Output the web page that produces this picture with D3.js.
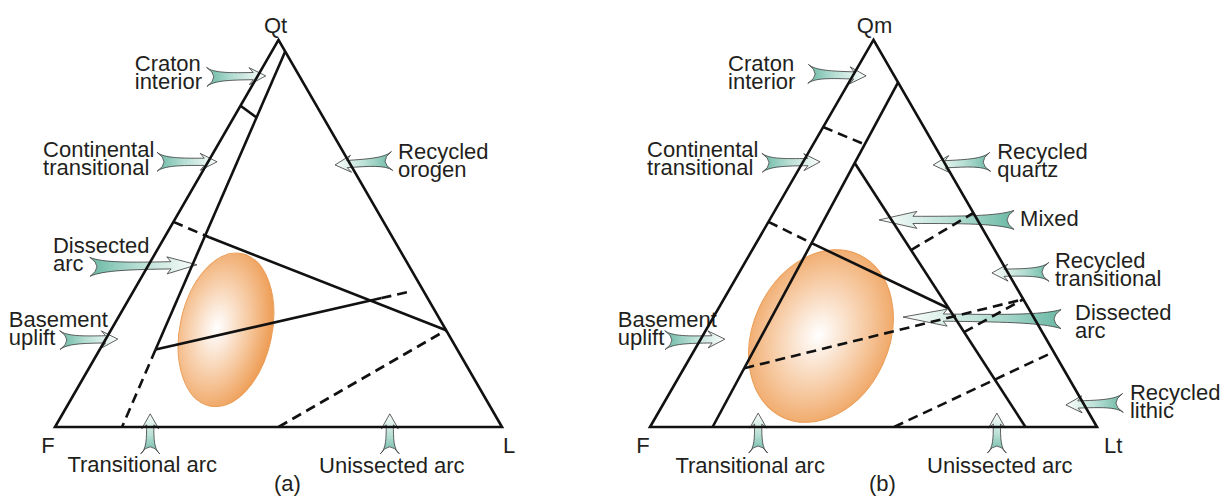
<!DOCTYPE html>
<html>
<head>
<meta charset="utf-8">
<script src="https://cdn.jsdelivr.net/npm/d3@7"></script>
<style>
    body { margin: 0; background: #fff; }
    text { font-family: 'Liberation Sans', Arial, sans-serif; font-size: 22px; fill: #231f20; }
</style>
</head>
<body>
<svg id="chart" width="1225" height="496"></svg>
<script>
// every ternary point is [Q, F, L] in percent
const verticesA = ['Qt', 'F', 'L']
const verticesB = ['Qm', 'F', 'Lt']

// field boundaries (a) Qt-F-L
const solidA = [
    [[97, 0, 3], [20, 67.5, 12.5]],
    [[83, 17, 0], [80, 15, 5]],
    [[49, 41, 10], [25, 0, 75]],
    [[20, 67.5, 12.5], [33.3, 10.3, 56.4]],
]
const dashedA = [
    [[20, 67.5, 12.5], [0, 85, 15]],
    [[53, 47, 0], [49, 41, 10]],
    [[33.3, 10.3, 56.4], [35, 3, 62]],
    [[0, 50, 50], [25, 0, 75]],
]

// field boundaries (b) Qm-F-Lt
const solidB = [
    [[89, 0, 11], [0, 86, 14]],
    [[47.5, 40.1, 12.4], [30.75, 18, 51.25]],
    [[68.2, 20.1, 11.7], [0, 16, 84]],
]
const dashedB = [
    [[77.5, 22.5, 0], [73, 15.5, 11.5]],
    [[53, 47, 0], [47.5, 40.1, 12.4]],
    [[15.2, 71.3, 13.5], [33, 0, 67]],
    [[24.5, 17.5, 58], [33, 0, 67]],
    [[0, 45.4, 54.6], [19.4, 0, 80.6]],
    [[45.7, 18.75, 35.55], [55.3, 0, 44.7]],
]

// sample spread: centre, radii (% of side), tilt
const blobA = { centre: [25.1, 49.2, 25.7], radii: [10.3, 17.4], tilt: 12 }
const blobB = { centre: [23.5, 50, 26.5], radii: [15.2, 20.1], tilt: 25 }

// provenance fields and the point each arrow targets
const labelsA = [
    ['Craton', 'interior'], ['Continental', 'transitional'], ['Recycled', 'orogen'],
    ['Dissected', 'arc'], ['Basement', 'uplift'], ['Transitional arc'], ['Unissected arc'],
]
const tipsA = [
    [90.7, 7.5, 1.8], [68.5, 29.5, 2], [67.7, 3.5, 28.8],
    [41.9, 47.3, 10.8], [22.7, 74.6, 2.7], [3.4, 77, 19.6], [3.4, 23.4, 73.2],
]
const labelsB = [
    ['Craton', 'interior'], ['Continental', 'transitional'], ['Recycled', 'quartz'], ['Mixed'],
    ['Recycled', 'transitional'], ['Dissected', 'arc'], ['Basement', 'uplift'],
    ['Recycled', 'lithic'], ['Transitional arc'], ['Unissected arc'],
]
const tipsB = [
    [90.7, 6.3, 3], [68.5, 27.7, 3.8], [67.7, 2.8, 29.5], [53.5, 22, 24.5],
    [39.8, 3.6, 56.6], [28.4, 29.2, 42.4], [22.7, 71.9, 5.4],
    [5.7, 4.1, 90.2], [3.6, 74, 22.4], [3.6, 20.6, 75.8],
]

// layout: [tail dx, tail dy, text dx, text dy, anchor]
const layoutA = [
    [-59, 1, -72, -6, 'start'], [-60, 0, -114, -5, 'start'], [57, -4, 6, -2, 'start'],
    [-107, 2, -37, -14, 'start'], [-58, 1, -51, -13, 'start'],
    [0, 40, -8, 18, 'middle'], [0, 40, 2, 19, 'middle'],
]
const layoutB = [
    [-58, -2, -80, -3, 'start'], [-58, 1, -115, -6, 'start'], [57, -3, 7, -3, 'start'],
    [135, 0, 6, 6, 'start'], [57, -1, 6, -4, 'start'], [158, 2, 14, 1, 'start'],
    [-60, 1, -47, -13, 'start'], [57, -2, 7, -3, 'start'],
    [0, 40, -8, 20, 'middle'], [0, 40, 3, 20, 'middle'],
]
const vertexLayoutA = [[-3, -7, 'middle'], [-7, 26, 'middle'], [1, 26, 'start']]
const vertexLayoutB = [[1, -7, 'middle'], [-7, 26, 'middle'], [7, 26, 'start']]

const svg = d3.select('#chart')
const defs = svg.append('defs')

const fin = defs.append('linearGradient').attr('id', 'fin')
    .attr('x1', 0).attr('y1', 0).attr('x2', 1).attr('y2', 0)
fin.append('stop').attr('offset', 0).attr('stop-color', '#6ab8a4')
fin.append('stop').attr('offset', 0.45).attr('stop-color', '#b6ded3')
fin.append('stop').attr('offset', 1).attr('stop-color', '#fcfefd')

const glow = (id, cx) => {
    const grad = defs.append('radialGradient').attr('id', id)
        .attr('cx', cx).attr('cy', 0.5).attr('fx', cx).attr('fy', 0.5).attr('r', 0.58)
    grad.append('stop').attr('offset', 0).attr('stop-color', '#ffffff')
    grad.append('stop').attr('offset', 0.2).attr('stop-color', '#fcede0')
    grad.append('stop').attr('offset', 0.6).attr('stop-color', '#f6c79d')
    grad.append('stop').attr('offset', 1).attr('stop-color', '#ee9f58')
}
glow('glowA', 0.4)
glow('glowB', 0.48)

const arrowPath = len => {
    const h = Math.max(15, len * 0.28), hw = 8.5, sw = 3.6, tw = 9.5, n = 7
    const b = len - h
    return `M${len},0 L${b},${-hw} L${b + 4},${-sw} ` +
        `C${len * 0.4},${-sw} ${len * 0.12},${-sw} 0,${-tw} ` +
        `Q${n * 2},0 0,${tw} ` +
        `C${len * 0.12},${sw} ${len * 0.4},${sw} ${b + 4},${sw} L${b},${hw} Z`
}

const drawPanel = (g, spec) => {
    const x = d3.scaleLinear().domain([0, 100]).range([spec.left, spec.right])
    const y = d3.scaleLinear().domain([0, 100])
        .range([spec.base, spec.base - (spec.right - spec.left) * Math.sqrt(3) / 2])
    const pt = ([q, f, l]) => [x(l + q / 2), y(q)]
    const span = r => x(r) - x(0)

    // sample ellipse
    const c = pt(spec.blob.centre)
    g.append('ellipse')
        .attr('transform', `translate(${c[0]},${c[1]}) rotate(${spec.blob.tilt})`)
        .attr('rx', span(spec.blob.radii[0]))
        .attr('ry', span(spec.blob.radii[1]))
        .attr('fill', `url(#${spec.glow})`)
        .attr('stroke', '#eb9c55')
        .attr('stroke-width', 1)

    // arrows
    spec.tips.forEach((tip, i) => {
        const [tdx, tdy, lx, ly, anchor] = spec.layout[i]
        const [px, py] = pt(tip)
        const tx = px + tdx, ty = py + tdy
        const len = Math.hypot(px - tx, py - ty)
        const ang = Math.atan2(py - ty, px - tx) * 180 / Math.PI

        g.append('path')
            .attr('transform', `translate(${tx},${ty}) rotate(${ang})`)
            .attr('d', arrowPath(len))
            .attr('fill', 'url(#fin)')
            .attr('stroke', '#3a3a3a')
            .attr('stroke-width', 0.8)
            .attr('stroke-linejoin', 'round')

        const t = g.append('text')
            .attr('x', tx + lx)
            .attr('y', ty + ly)
            .attr('text-anchor', anchor)
        spec.labels[i].forEach((line, k) => {
            t.append('tspan')
                .attr('x', tx + lx)
                .attr('dy', k ? 18 : 0)
                .text(line)
        })
    })

    const line = d3.line()
    const bounds = g.append('g')
        .attr('fill', 'none')
        .attr('stroke', '#111')
        .attr('stroke-width', 2.6)

    bounds.selectAll('.solid').data(spec.solid).enter().append('path')
        .attr('class', 'solid')
        .attr('d', d => line(d.map(pt)))

    bounds.selectAll('.dashed').data(spec.dashed).enter().append('path')
        .attr('class', 'dashed')
        .attr('stroke-dasharray', '10,6')
        .attr('d', d => line(d.map(pt)))

    const corners = [[100, 0, 0], [0, 100, 0], [0, 0, 100]]
    bounds.append('path')
        .attr('stroke-linejoin', 'miter')
        .attr('d', line(corners.map(pt)) + 'Z')

    // vertex labels
    g.selectAll('.vertex').data(spec.vertices).enter().append('text')
        .attr('class', 'vertex')
        .attr('x', (d, i) => pt(corners[i])[0] + spec.vertexLayout[i][0])
        .attr('y', (d, i) => pt(corners[i])[1] + spec.vertexLayout[i][1])
        .attr('text-anchor', (d, i) => spec.vertexLayout[i][2])
        .text(d => d)

    g.append('text')
        .attr('x', (spec.left + spec.right) / 2 + 9)
        .attr('y', 491)
        .attr('text-anchor', 'middle')
        .text(spec.title)
}

drawPanel(svg.append('g'), {
    left: 55, right: 502, base: 427, title: '(a)', glow: 'glowA',
    vertices: verticesA, vertexLayout: vertexLayoutA,
    solid: solidA, dashed: dashedA, blob: blobA,
    labels: labelsA, tips: tipsA, layout: layoutA,
})
drawPanel(svg.append('g'), {
    left: 650, right: 1097, base: 427, title: '(b)', glow: 'glowB',
    vertices: verticesB, vertexLayout: vertexLayoutB,
    solid: solidB, dashed: dashedB, blob: blobB,
    labels: labelsB, tips: tipsB, layout: layoutB,
})
</script>
</body>
</html>
